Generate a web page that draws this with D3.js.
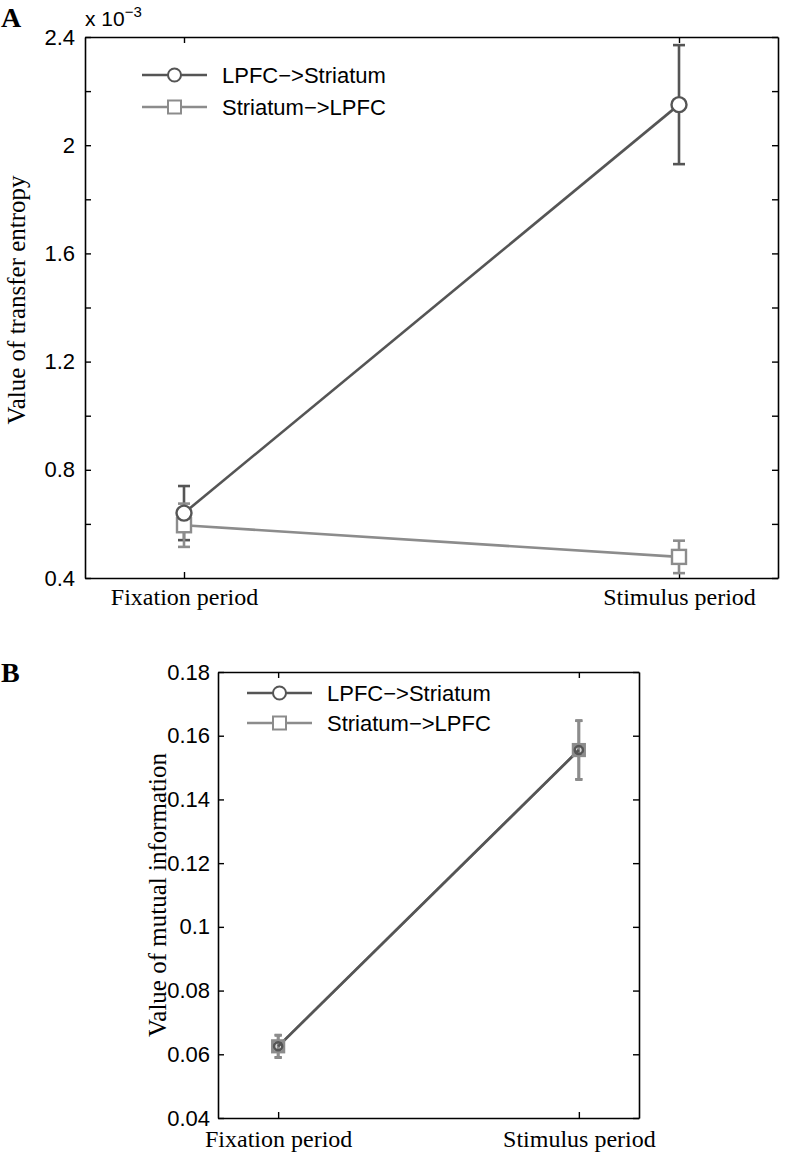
<!DOCTYPE html>
<html><head><meta charset="utf-8">
<script src="https://cdn.jsdelivr.net/npm/d3@7"></script>
<style>body{margin:0;background:#fff}</style></head>
<body><svg id="c" width="786" height="1154"></svg>
<script>
// ---- data ----
const categories = ["Fixation period", "Stimulus period"];
const seriesNames = ["LPFC\u2212>Striatum", "Striatum\u2212>LPFC"];
// Panel A: transfer entropy (x 10^-3)
const teLPFC = [0.64, 2.15];
const teLPFCErr = [0.10, 0.22];
const teStriatum = [0.595, 0.478];
const teStriatumErr = [0.08, 0.06];
const teTicks = [0.4, 0.6, 0.8, 1.0, 1.2, 1.4, 1.6, 1.8, 2.0, 2.2, 2.4];
const teTickLabels = ["0.4", "", "0.8", "", "1.2", "", "1.6", "", "2", "", "2.4"];
// Panel B: mutual information
const miLPFC = [0.0625, 0.1555];
const miLPFCErr = [0.0035, 0.0092];
const miStriatum = [0.0625, 0.1555];
const miStriatumErr = [0.0035, 0.0092];
const miTicks = [0.04, 0.06, 0.08, 0.10, 0.12, 0.14, 0.16, 0.18];
const miTickLabels = ["0.04", "0.06", "0.08", "0.1", "0.12", "0.14", "0.16", "0.18"];

const DARK = "#555555", GRAY = "#8c8c8c";
const svg = d3.select("#c");

function panel(cfg) {
  const g = svg.append("g");
  const x = d3.scalePoint().domain(categories).range([cfg.x0, cfg.x1]).padding(0.2);
  const y = d3.scaleLinear().domain(cfg.domain).range([cfg.y1, cfg.y0]);

  const fmt = d => cfg.tickLabels[cfg.ticks.indexOf(d)];
  const ax = (a, pos) => {
    const gg = g.append("g").attr("transform", pos).call(a);
    gg.select(".domain").attr("stroke", "#000").attr("stroke-width", 1.6);
    gg.selectAll(".tick line").attr("stroke", "#000").attr("stroke-width", 1.4);
    return gg;
  };
  const left = ax(d3.axisLeft(y).tickValues(cfg.ticks).tickFormat(fmt).tickSizeInner(-6).tickSizeOuter(0).tickPadding(cfg.yPad),
    `translate(${cfg.x0},0)`);
  left.selectAll(".tick text").attr("font-family", "'Liberation Sans', Arial, sans-serif").attr("font-size", 22).attr("fill", "#000");
  ax(d3.axisRight(y).tickValues(cfg.ticks).tickFormat("").tickSizeInner(-6).tickSizeOuter(0), `translate(${cfg.x1},0)`);
  const bottom = ax(d3.axisBottom(x).tickSizeInner(-6).tickSizeOuter(0).tickPadding(cfg.xPad), `translate(0,${cfg.y1})`);
  bottom.selectAll(".tick text").attr("font-family", "'Liberation Serif', 'Times New Roman', serif").attr("font-size", 24).attr("fill", "#000");
  ax(d3.axisTop(x).tickFormat("").tickSizeInner(-6).tickSizeOuter(0), `translate(0,${cfg.y0})`);

  // y label
  g.append("text").attr("transform", `translate(${cfg.ylabX},${cfg.ylabY}) rotate(-90)`)
    .attr("text-anchor", "middle").attr("font-family", "'Liberation Serif', 'Times New Roman', serif")
    .attr("font-size", 25).text(cfg.ylabel);
  // panel letter
  g.append("text").attr("x", cfg.letterX).attr("y", cfg.letterY).attr("font-family", "'Liberation Serif', serif")
    .attr("font-weight", "bold").attr("font-size", 28).text(cfg.letter);

  const series = [
    {vals: cfg.s1, err: cfg.e1, color: DARK, shape: "circle"},
    {vals: cfg.s2, err: cfg.e2, color: GRAY, shape: "square"}
  ];
  const line = d3.line().x((d, i) => x(categories[i])).y(d => y(d));
  const errbars = s => {
    s.vals.forEach((v, i) => {
      const cx = x(categories[i]);
      const lo = y(v - s.err[i]), hi = y(v + s.err[i]);
      g.append("line").attr("x1", cx).attr("x2", cx).attr("y1", lo).attr("y2", hi).attr("stroke", s.color).attr("stroke-width", 2.6);
      [lo, hi].forEach(yy => g.append("line").attr("x1", cx - cfg.cap).attr("x2", cx + cfg.cap).attr("y1", yy).attr("y2", yy)
        .attr("stroke", s.color).attr("stroke-width", 2.6));
    });
  };
  errbars(series[0]);
  errbars(series[1]);
  [series[1], series[0]].forEach(s =>
    g.append("path").attr("d", line(s.vals)).attr("fill", "none").attr("stroke", s.color).attr("stroke-width", 2.6));
  // markers
  [series[1], series[0]].forEach(s => {
    s.vals.forEach((v, i) => {
      const cx = x(categories[i]), cy = y(v);
      if (s.shape === "circle") {
        g.append("circle").attr("cx", cx).attr("cy", cy).attr("r", cfg.r).attr("fill", cfg.mfill).attr("stroke", s.color).attr("stroke-width", cfg.mStroke);
      } else {
        g.append("rect").attr("x", cx - cfg.sq / 2).attr("y", cy - cfg.sq / 2).attr("width", cfg.sq).attr("height", cfg.sq)
          .attr("fill", cfg.mfill).attr("stroke", s.color).attr("stroke-width", cfg.sqStroke);
      }
    });
  });

  // legend
  series.forEach((s, k) => {
    const ly = cfg.legY + k * cfg.legDy;
    g.append("line").attr("x1", cfg.legX).attr("x2", cfg.legX + 65).attr("y1", ly).attr("y2", ly).attr("stroke", s.color).attr("stroke-width", 2.6);
    const mx = cfg.legX + 32.5;
    if (s.shape === "circle") g.append("circle").attr("cx", mx).attr("cy", ly).attr("r", 6.5).attr("fill", "#fff").attr("stroke", s.color).attr("stroke-width", 2);
    else g.append("rect").attr("x", mx - 6.5).attr("y", ly - 6.5).attr("width", 13).attr("height", 13).attr("fill", "#fff").attr("stroke", s.color).attr("stroke-width", 2);
    g.append("text").attr("x", cfg.legX + 80).attr("y", ly + 8).attr("font-family", "'Liberation Sans', Arial, sans-serif")
      .attr("font-size", 22).text(seriesNames[k]);
  });
  return {x, y, g};
}

const A = panel({x0: 85, x1: 778, y0: 37, y1: 578, domain: [0.4, 2.4], ticks: teTicks, tickLabels: teTickLabels,
  yPad: 10, xPad: 10, ylabX: 25, ylabY: 300, ylabel: "Value of transfer entropy", letter: "A", letterX: 1, letterY: 27,
  s1: teLPFC, e1: teLPFCErr, s2: teStriatum, e2: teStriatumErr, cap: 6, r: 7.5, sq: 14, mfill: "#fff", mStroke: 2.4, sqStroke: 2.4,
  legX: 142, legY: 75, legDy: 32});
// exponent label
A.g.append("text").attr("x", 85).attr("y", 26).attr("font-family", "'Liberation Sans', Arial, sans-serif").attr("font-size", 21)
  .text("x 10").append("tspan").attr("dy", -9).attr("font-size", 15).text("\u22123");

panel({x0: 218, x1: 639, y0: 672, y1: 1118, domain: [0.04, 0.18], ticks: miTicks, tickLabels: miTickLabels,
  yPad: 8, xPad: 12, ylabX: 166, ylabY: 895, ylabel: "Value of mutual information", letter: "B", letterX: 1, letterY: 682,
  s1: miLPFC, e1: miLPFCErr, s2: miStriatum, e2: miStriatumErr, cap: 3.5, r: 4, sq: 11, mfill: "none", mStroke: 2.6, sqStroke: 3.2,
  legX: 247, legY: 693, legDy: 30});
</script></body></html>
